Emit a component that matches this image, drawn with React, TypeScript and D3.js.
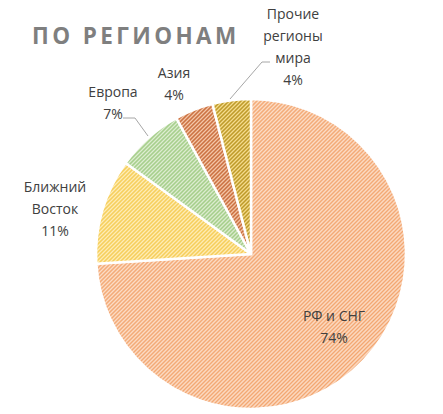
import React from "react";
import * as d3 from "d3";

const categories = ["РФ и СНГ", "Ближний Восток", "Европа", "Азия", "Прочие регионы мира"];
const values = [74, 11, 7, 4, 4];
const percentLabels = ["74%", "11%", "7%", "4%", "4%"];
const labelLines = [["РФ и СНГ"], ["Ближний", "Восток"], ["Европа"], ["Азия"], ["Прочие", "регионы", "мира"]];
const baseColors = ["#fde3d0", "#fff0c0", "#e3f0d8", "#f9d0b4", "#fbe49a"];
const stripeColors = ["#f2a36b", "#f5c94c", "#9cc97f", "#c4622f", "#b58f18"];
// label anchor (center x, first line center y)
const labelPos: [number, number][] = [[334, 316], [55, 187], [113, 92], [174, 73], [293, 14]];

const W = 443, H = 414;
const cx = 251, cy = 254, R = 155;

export default function App() {
  const pie = d3.pie<number>().sort(null).value((d) => d)(values);
  const arc = d3.arc<d3.PieArcDatum<number>>().innerRadius(0).outerRadius(R);
  const lh = 22;
  return (
    <svg width={W} height={H} style={{ position: "absolute", left: 0, top: 0 }}>
      <defs>
        {baseColors.map((c, i) => (
          <pattern key={i} id={`p${i}`} width={2.83} height={2.83} patternUnits="userSpaceOnUse" patternTransform="rotate(45)">
            <rect width={2.83} height={2.83} fill={c} />
            <rect width={1.45} height={2.83} fill={stripeColors[i]} />
          </pattern>
        ))}
      </defs>
      <rect width={W} height={H} fill="#fff" />
      <text x={32} y={44} fontFamily="'Open Sans', sans-serif" fontWeight="bold" fontSize={22.5} fill="#7f7f7f" letterSpacing={3.4}>
        ПО РЕГИОНАМ
      </text>
      <g transform={`translate(${cx},${cy})`}>
        {pie.map((d, i) => (
          <path key={i} d={arc(d) || ""} fill={`url(#p${i})`} stroke="#fff" strokeWidth={2.5} strokeLinejoin="round" />
        ))}
      </g>
      {/* leader lines */}
      <polyline points="270,62 262,62 230,99" fill="none" stroke="#a6a6a6" strokeWidth={1} />
      <polyline points="123,118 135,118 148,136" fill="none" stroke="#a6a6a6" strokeWidth={1} />
      {labelLines.map((lines, i) => {
        const [x, y0] = labelPos[i];
        const all = [...lines, percentLabels[i]];
        return (
          <text key={i} textAnchor="middle" fontFamily="'Open Sans', sans-serif" fontSize={14} fill="#404040">
            {all.map((t, j) => (
              <tspan key={j} x={x} y={y0 + j * lh} dy="0.35em">{t}</tspan>
            ))}
          </text>
        );
      })}
    </svg>
  );
}
